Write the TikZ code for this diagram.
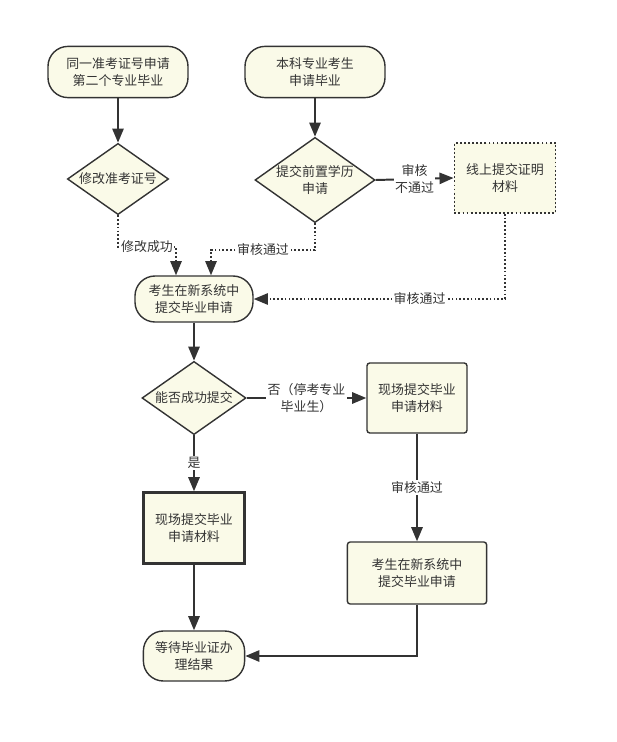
\documentclass[tikz,border=0pt]{standalone}
\usepackage{fontspec}
\setmainfont{Noto Sans CJK SC}
\usetikzlibrary{shapes.geometric,arrows.meta}

\definecolor{boxfill}{RGB}{250,250,232}
\definecolor{linegray}{RGB}{51,51,51}

\tikzset{
  base/.style={draw=linegray, fill=boxfill, line width=1pt, align=center, text=linegray,
    font=\fontsize{9.2pt}{12.6pt}\selectfont},
  terminal/.style={base, rounded corners=0.5cm},
  process/.style={base, rounded corners=2pt},
  hardbox/.style={base, line width=1.6pt},
  dotbox/.style={base, dash pattern=on 1.3pt off 1.6pt, line width=1.2pt},
  decision/.style={base, diamond, aspect=1.4, inner sep=0pt},
  lbl/.style={fill=white, inner sep=1pt, align=center, text=linegray,
    font=\fontsize{9.2pt}{12.6pt}\selectfont},
  flow/.style={draw=linegray, line width=1.4pt, -{Triangle[length=10pt,width=8pt]}},
  dotflow/.style={flow, line width=1.2pt, dash pattern=on 1.2pt off 1.5pt}
}

\begin{document}
\begin{tikzpicture}[x=0.025cm, y=-0.025cm]

\useasboundingbox (0,0) rectangle (617,742);

\node[terminal, minimum width=3.5cm, minimum height=1.28cm] (start2nd) at (118,72) {同一准考证号申请\\第二个专业毕业};
\node[terminal, minimum width=3.5cm, minimum height=1.28cm] (startbk) at (315,72) {本科专业考生\\申请毕业};
\node[decision, minimum width=2.53cm, minimum height=1.78cm] (modify) at (118,179) {修改准考证号};
\node[decision, minimum width=3.0cm, minimum height=2.13cm] (prior) at (315,180) {提交前置学历\\申请};
\node[dotbox, minimum width=2.53cm, minimum height=1.75cm] (online) at (505,178) {线上提交证明\\材料};
\node[terminal, minimum width=2.95cm, minimum height=1.15cm] (submit) at (194,299) {考生在新系统中\\提交毕业申请};
\node[decision, minimum width=2.6cm, minimum height=1.83cm] (cansub) at (194,398) {能否成功提交};
\node[process, minimum width=2.5cm, minimum height=1.75cm] (onsite2) at (417,398) {现场提交毕业\\申请材料};
\node[hardbox, minimum width=2.53cm, minimum height=1.78cm] (onsite) at (194,528) {现场提交毕业\\申请材料};
\node[process, minimum width=3.48cm, minimum height=1.55cm] (resubmit) at (417,573) {考生在新系统中\\提交毕业申请};
\node[terminal, minimum width=2.53cm, minimum height=1.25cm] (wait) at (194,656) {等待毕业证办\\理结果};

\coordinate (t1) at (176,247);
\coordinate (t2) at (211,250);

\draw[flow] (start2nd) -- (modify);
\draw[flow] (startbk) -- (prior);
\draw[flow] (prior.east) -- node[lbl] {审核\\不通过} (online.west);
\draw[dotflow] (modify.south) |- node[lbl, pos=0.75] {修改成功} (t1) -- (t1 |- submit.north);
\draw[dotflow] (prior.south) |- node[lbl, pos=0.75] {审核通过} (t2) -- (t2 |- submit.north);
\draw[dotflow] (online.south) |- node[lbl, pos=0.67] {审核通过} (submit.east);

\draw[flow] (submit) -- (cansub);
\draw[flow] (cansub.east) -- node[lbl] {否（停考专业\\毕业生）} (onsite2.west);
\draw[flow] (cansub.south) -- node[lbl] {是} (onsite.north);
\draw[flow] (onsite2.south) -- node[lbl] {审核通过} (resubmit.north);
\draw[flow] (onsite) -- (wait);
\draw[flow] (resubmit.south) |- (wait.east);

\end{tikzpicture}
\end{document}
